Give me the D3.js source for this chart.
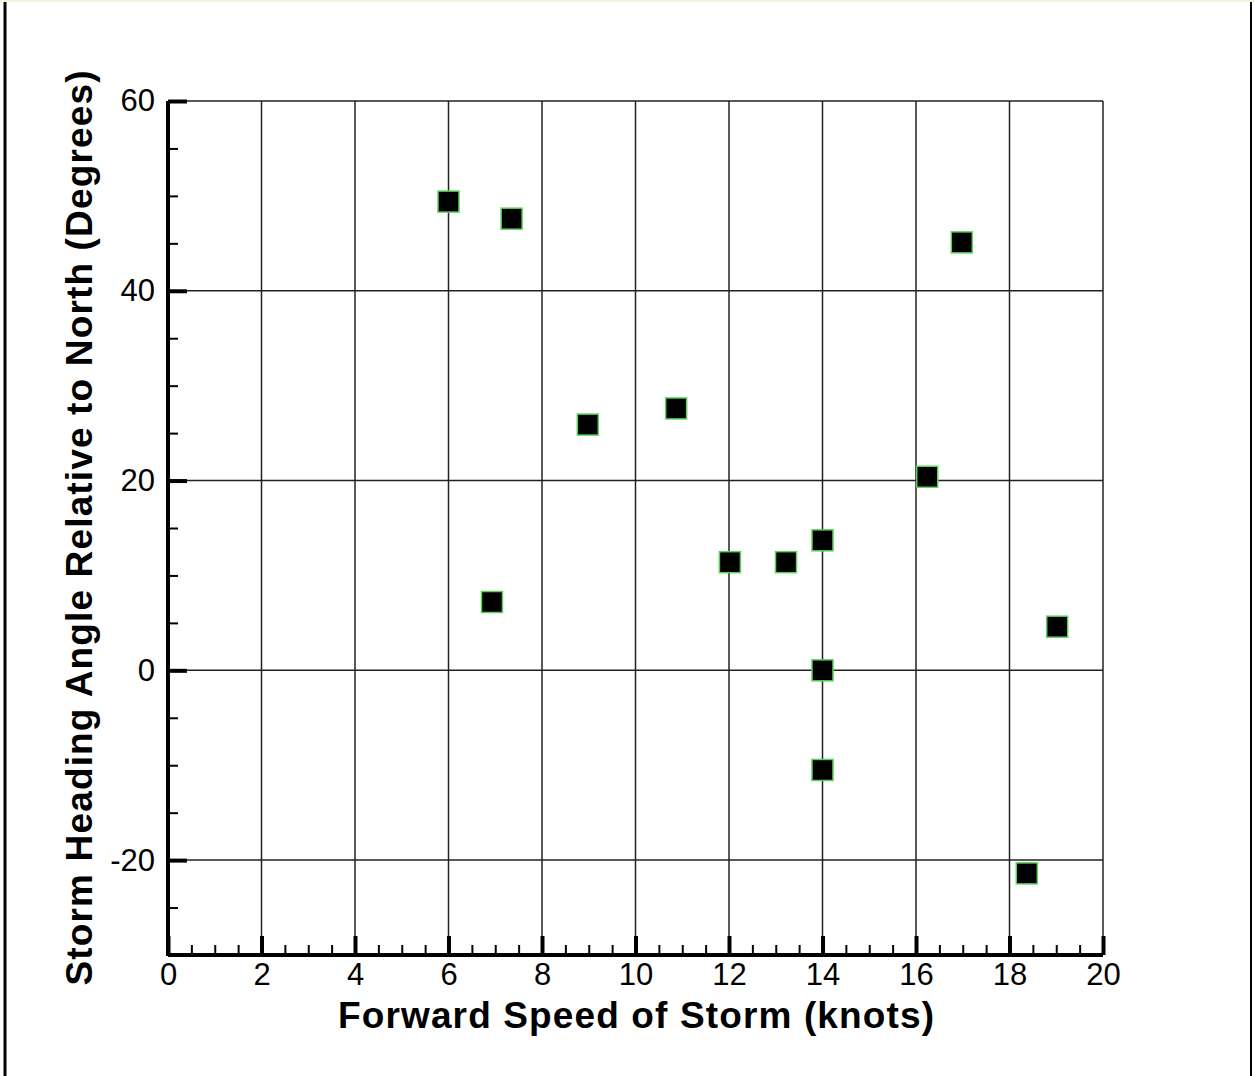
<!DOCTYPE html>
<html>
<head>
<meta charset="utf-8">
<script src="https://cdnjs.cloudflare.com/ajax/libs/d3/7.8.5/d3.min.js"></script>
<style>
  body { margin: 0; background: #fff; }
  svg { display: block; }
</style>
</head>
<body>
<div id="chart"></div>
<script>
// storm data
const speed = [6.0, 7.35, 16.98, 8.98, 10.87, 16.24, 12.02, 13.22, 14.0, 6.93, 19.02, 14.0, 14.0, 18.37];
const heading = [49.4, 47.6, 45.1, 25.9, 27.6, 20.4, 11.4, 11.4, 13.7, 7.2, 4.6, 0, -10.5, -21.4];
const xTicks = [0, 2, 4, 6, 8, 10, 12, 14, 16, 18, 20];
const yTicks = [-20, 0, 20, 40, 60];

const W = 1254, H = 1076;
const plotLeft = 168, plotRight = 1103, plotTop = 101, plotBottom = 955;

const svg = d3.select("#chart").append("svg")
    .attr("width", W).attr("height", H);

// outer frame
svg.append("line").attr("x1", 5).attr("x2", 5).attr("y1", 0).attr("y2", H)
    .attr("stroke", "#000").attr("stroke-width", 3);
svg.append("line").attr("x1", 1251).attr("x2", 1251).attr("y1", 0).attr("y2", H)
    .attr("stroke", "#000").attr("stroke-width", 2);
svg.append("line").attr("x1", 0).attr("x2", W).attr("y1", 1).attr("y2", 1)
    .attr("stroke", "#f4f4dc").attr("stroke-width", 2);

let x = d3.scaleLinear().domain([0, 20]).range([plotLeft, plotRight]);
let y = d3.scaleLinear().domain([-30, 60]).range([plotBottom, plotTop]);

// grid
svg.append("g").selectAll("line")
    .data(xTicks.slice(1))
    .enter().append("line")
    .attr("x1", d => x(d)).attr("x2", d => x(d))
    .attr("y1", plotTop).attr("y2", plotBottom)
    .attr("stroke", "#222").attr("stroke-width", 1.5);
svg.append("g").selectAll("line")
    .data(yTicks)
    .enter().append("line")
    .attr("x1", plotLeft).attr("x2", plotRight)
    .attr("y1", d => y(d)).attr("y2", d => y(d))
    .attr("stroke", "#222").attr("stroke-width", 1.5);

// axes with inward ticks
let xMinor = d3.range(0, 20.01, 0.5);
let yMinor = d3.range(-30, 60.01, 5);
const fmt = d => String(d);

let xAxisMinor = svg.append("g")
    .attr("transform", "translate(0," + plotBottom + ")")
    .call(d3.axisBottom(x).tickValues(xMinor).tickSize(-10).tickFormat(""));
xAxisMinor.selectAll(".tick line").attr("stroke-width", 2);
xAxisMinor.select(".domain").remove();

let xAxis = svg.append("g")
    .attr("transform", "translate(0," + plotBottom + ")")
    .call(d3.axisBottom(x).tickValues(xTicks).tickSize(-19).tickPadding(8).tickFormat(fmt));
xAxis.selectAll(".tick line").attr("stroke-width", 4);
xAxis.select(".domain").attr("stroke-width", 4).attr("d", "M" + plotLeft + ",0H" + plotRight);
xAxis.selectAll("text")
    .style("font-family", "Liberation Sans, Arial, sans-serif")
    .style("font-size", "31px").attr("fill", "#000");

let yAxisMinor = svg.append("g")
    .attr("transform", "translate(" + plotLeft + ",0)")
    .call(d3.axisLeft(y).tickValues(yMinor).tickSize(-10).tickFormat(""));
yAxisMinor.selectAll(".tick line").attr("stroke-width", 2);
yAxisMinor.select(".domain").remove();

let yAxis = svg.append("g")
    .attr("transform", "translate(" + plotLeft + ",0)")
    .call(d3.axisLeft(y).tickValues(yTicks).tickSize(-19).tickPadding(13).tickFormat(fmt));
yAxis.selectAll(".tick line").attr("stroke-width", 4);
yAxis.select(".domain").attr("stroke-width", 4).attr("d", "M0," + plotTop + "V" + (plotBottom + 1));
yAxis.selectAll("text")
    .style("font-family", "Liberation Sans, Arial, sans-serif")
    .style("font-size", "31px").attr("fill", "#000");

// markers
const s = 21;
svg.append("g").selectAll("rect")
    .data(speed)
    .enter().append("rect")
    .attr("x", (d, i) => x(d) - s / 2)
    .attr("y", (d, i) => y(heading[i]) - s / 2)
    .attr("width", s).attr("height", s)
    .attr("fill", "#000")
    .attr("stroke", "#5ad25a").attr("stroke-width", 1.5);

// axis titles
svg.append("text")
    .text("Forward Speed of Storm (knots)")
    .attr("x", 636).attr("y", 1028)
    .attr("text-anchor", "middle")
    .attr("font-family", "Liberation Sans, Arial, sans-serif")
    .attr("font-weight", "bold").attr("font-size", 37)
    .attr("textLength", 596).attr("lengthAdjust", "spacing");

svg.append("text")
    .text("Storm Heading Angle Relative to North (Degrees)")
    .attr("transform", "translate(92,528) rotate(-90)")
    .attr("text-anchor", "middle")
    .attr("font-family", "Liberation Sans, Arial, sans-serif")
    .attr("font-weight", "bold").attr("font-size", 37)
    .attr("textLength", 915).attr("lengthAdjust", "spacing");
</script>
</body>
</html>
